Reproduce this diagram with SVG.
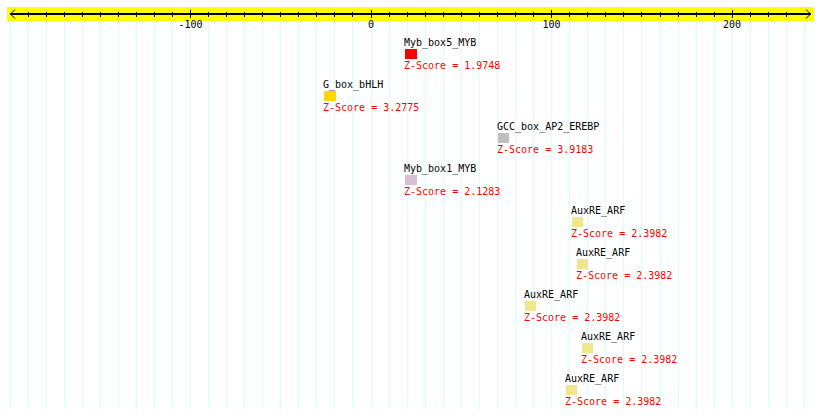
<svg xmlns="http://www.w3.org/2000/svg" width="820" height="419" viewBox="0 0 820 419">
<style>
.grid line{stroke:#d6ffff;stroke-width:1;shape-rendering:crispEdges}
.tk{stroke:#000;stroke-width:1;shape-rendering:crispEdges}
.t{font-family:"DejaVu Sans Mono","Liberation Mono",monospace;font-size:10px}
.n{fill:#000}
.z{fill:#ff0000}
.ax{fill:#000;text-anchor:middle}
</style>
<rect width="820" height="419" fill="#fff"/>
<g class="grid">
<line x1="10" y1="21" x2="10" y2="409"/><line x1="28" y1="21" x2="28" y2="409"/><line x1="46" y1="21" x2="46" y2="409"/><line x1="64" y1="21" x2="64" y2="409"/><line x1="82" y1="21" x2="82" y2="409"/><line x1="100" y1="21" x2="100" y2="409"/><line x1="118" y1="21" x2="118" y2="409"/><line x1="136" y1="21" x2="136" y2="409"/><line x1="154" y1="21" x2="154" y2="409"/><line x1="172" y1="21" x2="172" y2="409"/><line x1="190" y1="21" x2="190" y2="409"/><line x1="208" y1="21" x2="208" y2="409"/><line x1="226" y1="21" x2="226" y2="409"/><line x1="244" y1="21" x2="244" y2="409"/><line x1="262" y1="21" x2="262" y2="409"/><line x1="280" y1="21" x2="280" y2="409"/><line x1="298" y1="21" x2="298" y2="409"/><line x1="316" y1="21" x2="316" y2="409"/><line x1="334" y1="21" x2="334" y2="409"/><line x1="352" y1="21" x2="352" y2="409"/><line x1="371" y1="21" x2="371" y2="409"/><line x1="389" y1="21" x2="389" y2="409"/><line x1="407" y1="21" x2="407" y2="409"/><line x1="425" y1="21" x2="425" y2="409"/><line x1="443" y1="21" x2="443" y2="409"/><line x1="461" y1="21" x2="461" y2="409"/><line x1="479" y1="21" x2="479" y2="409"/><line x1="497" y1="21" x2="497" y2="409"/><line x1="515" y1="21" x2="515" y2="409"/><line x1="533" y1="21" x2="533" y2="409"/><line x1="551" y1="21" x2="551" y2="409"/><line x1="569" y1="21" x2="569" y2="409"/><line x1="587" y1="21" x2="587" y2="409"/><line x1="605" y1="21" x2="605" y2="409"/><line x1="623" y1="21" x2="623" y2="409"/><line x1="641" y1="21" x2="641" y2="409"/><line x1="660" y1="21" x2="660" y2="409"/><line x1="678" y1="21" x2="678" y2="409"/><line x1="696" y1="21" x2="696" y2="409"/><line x1="714" y1="21" x2="714" y2="409"/><line x1="732" y1="21" x2="732" y2="409"/><line x1="750" y1="21" x2="750" y2="409"/><line x1="768" y1="21" x2="768" y2="409"/><line x1="786" y1="21" x2="786" y2="409"/><line x1="804" y1="21" x2="804" y2="409"/>
</g>
<g id="axis">
<rect x="7" y="7" width="807" height="14" fill="#ffff00"/>
<line x1="10" y1="14" x2="811" y2="14" stroke="#000" stroke-width="2"/>
<polyline points="15,9.5 10.5,14 15,18.5" fill="none" stroke="#000" stroke-width="1"/>
<polyline points="806,9.5 810.5,14 806,18.5" fill="none" stroke="#000" stroke-width="1"/>
<g class="tk">
<line x1="28" y1="12" x2="28" y2="17"/><line x1="46" y1="12" x2="46" y2="17"/><line x1="64" y1="12" x2="64" y2="17"/><line x1="82" y1="12" x2="82" y2="17"/><line x1="100" y1="12" x2="100" y2="17"/><line x1="118" y1="12" x2="118" y2="17"/><line x1="136" y1="12" x2="136" y2="17"/><line x1="154" y1="12" x2="154" y2="17"/><line x1="172" y1="12" x2="172" y2="17"/><line x1="190" y1="10" x2="190" y2="18"/><line x1="208" y1="12" x2="208" y2="17"/><line x1="226" y1="12" x2="226" y2="17"/><line x1="244" y1="12" x2="244" y2="17"/><line x1="262" y1="12" x2="262" y2="17"/><line x1="280" y1="12" x2="280" y2="17"/><line x1="298" y1="12" x2="298" y2="17"/><line x1="316" y1="12" x2="316" y2="17"/><line x1="334" y1="12" x2="334" y2="17"/><line x1="352" y1="12" x2="352" y2="17"/><line x1="371" y1="10" x2="371" y2="18"/><line x1="389" y1="12" x2="389" y2="17"/><line x1="407" y1="12" x2="407" y2="17"/><line x1="425" y1="12" x2="425" y2="17"/><line x1="443" y1="12" x2="443" y2="17"/><line x1="461" y1="12" x2="461" y2="17"/><line x1="479" y1="12" x2="479" y2="17"/><line x1="497" y1="12" x2="497" y2="17"/><line x1="515" y1="12" x2="515" y2="17"/><line x1="533" y1="12" x2="533" y2="17"/><line x1="551" y1="10" x2="551" y2="18"/><line x1="569" y1="12" x2="569" y2="17"/><line x1="587" y1="12" x2="587" y2="17"/><line x1="605" y1="12" x2="605" y2="17"/><line x1="623" y1="12" x2="623" y2="17"/><line x1="641" y1="12" x2="641" y2="17"/><line x1="660" y1="12" x2="660" y2="17"/><line x1="678" y1="12" x2="678" y2="17"/><line x1="696" y1="12" x2="696" y2="17"/><line x1="714" y1="12" x2="714" y2="17"/><line x1="732" y1="10" x2="732" y2="18"/><line x1="750" y1="12" x2="750" y2="17"/><line x1="768" y1="12" x2="768" y2="17"/><line x1="786" y1="12" x2="786" y2="17"/>
</g>
<text class="t ax" x="190.5" y="28">-100</text>
<text class="t ax" x="371" y="28">0</text>
<text class="t ax" x="551.5" y="28">100</text>
<text class="t ax" x="732" y="28">200</text>
</g>
<g id="myb_box5">
<text class="t n" x="404" y="46">Myb_box5_MYB</text>
<rect x="405" y="49" width="12" height="10" fill="#ff0000"/>
<text class="t z" x="404" y="69">Z-Score = 1.9748</text>
</g>
<g id="g_box">
<text class="t n" x="323" y="88">G_box_bHLH</text>
<rect x="324" y="91" width="12" height="10" fill="#ffd700"/>
<text class="t z" x="323" y="111">Z-Score = 3.2775</text>
</g>
<g id="gcc_box">
<text class="t n" x="497" y="130">GCC_box_AP2_EREBP</text>
<rect x="498" y="133" width="11" height="10" fill="#c0c0c0"/>
<text class="t z" x="497" y="153">Z-Score = 3.9183</text>
</g>
<g id="myb_box1">
<text class="t n" x="404" y="172">Myb_box1_MYB</text>
<rect x="405" y="175" width="12" height="10" fill="#d8bfd8"/>
<text class="t z" x="404" y="195">Z-Score = 2.1283</text>
</g>
<g id="auxre1">
<text class="t n" x="571" y="214">AuxRE_ARF</text>
<rect x="572" y="217" width="11" height="10" fill="#f0e68c"/>
<text class="t z" x="571" y="237">Z-Score = 2.3982</text>
</g>
<g id="auxre2">
<text class="t n" x="576" y="256">AuxRE_ARF</text>
<rect x="577" y="259" width="11" height="10" fill="#f0e68c"/>
<text class="t z" x="576" y="279">Z-Score = 2.3982</text>
</g>
<g id="auxre3">
<text class="t n" x="524" y="298">AuxRE_ARF</text>
<rect x="525" y="301" width="11" height="10" fill="#f0e68c"/>
<text class="t z" x="524" y="321">Z-Score = 2.3982</text>
</g>
<g id="auxre4">
<text class="t n" x="581" y="340">AuxRE_ARF</text>
<rect x="582" y="343" width="11" height="10" fill="#f0e68c"/>
<text class="t z" x="581" y="363">Z-Score = 2.3982</text>
</g>
<g id="auxre5">
<text class="t n" x="565" y="382">AuxRE_ARF</text>
<rect x="566" y="385" width="11" height="10" fill="#f0e68c"/>
<text class="t z" x="565" y="405">Z-Score = 2.3982</text>
</g>
</svg>
